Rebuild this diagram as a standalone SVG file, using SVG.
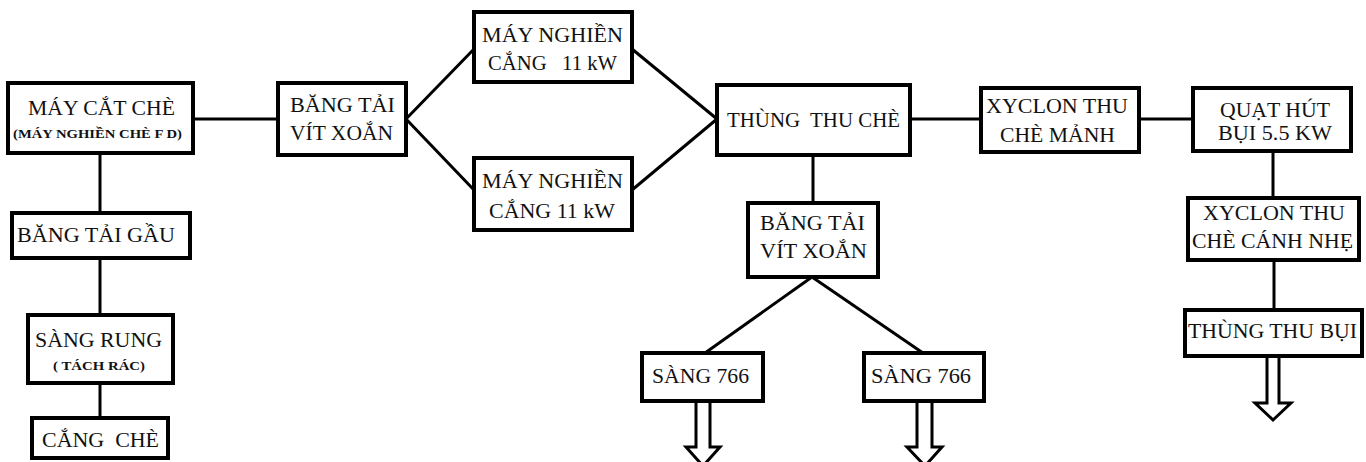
<svg xmlns="http://www.w3.org/2000/svg" width="1366" height="462" viewBox="0 0 1366 462">
<style>
.box{fill:#fff;stroke:#000;stroke-width:4}
.ln{stroke:#000;stroke-width:3;fill:none}
.arr{fill:#fff;stroke:#000;stroke-width:3;stroke-linejoin:miter}
text{font-family:"Liberation Serif","Times New Roman",serif;font-size:20px;fill:#111}
.sm{font-size:12px;font-weight:bold}
</style>
<rect width="1366" height="462" fill="#fff"/>
<g id="connectors">
<line class="ln" x1="193" y1="119" x2="278" y2="119"/>
<line class="ln" x1="100" y1="153" x2="100" y2="213"/>
<line class="ln" x1="100" y1="258" x2="100" y2="315"/>
<line class="ln" x1="100" y1="383" x2="100" y2="418"/>
<line class="ln" x1="406" y1="119" x2="474" y2="49"/>
<line class="ln" x1="406" y1="119" x2="474" y2="190"/>
<line class="ln" x1="632" y1="49" x2="717" y2="119"/>
<line class="ln" x1="632" y1="190" x2="717" y2="119"/>
<line class="ln" x1="813" y1="155" x2="813" y2="203"/>
<line class="ln" x1="812" y1="277" x2="705" y2="353"/>
<line class="ln" x1="812" y1="277" x2="923" y2="353"/>
<line class="ln" x1="910" y1="119" x2="981" y2="119"/>
<line class="ln" x1="1139" y1="119" x2="1193" y2="119"/>
<line class="ln" x1="1273" y1="151" x2="1273" y2="198"/>
<line class="ln" x1="1274" y1="260" x2="1274" y2="310"/>
<polygon class="arr" points="696,401 710,401 710,447 720,447 703,466 686,447 696,447"/>
<polygon class="arr" points="917,401 932,401 932,447 942,447 925,466 907,447 917,447"/>
<polygon class="arr" points="1267,356 1279,356 1279,403 1291,403 1273,420 1255,403 1267,403"/>
</g>
<g id="n-may-cat-che">
<rect class="box" x="8" y="83" width="185" height="70"/>
<text x="28" y="115" textLength="147" lengthAdjust="spacingAndGlyphs">MÁY CẮT CHÈ</text>
<text class="sm" x="13" y="138" textLength="169" lengthAdjust="spacingAndGlyphs">(MÁY NGHIỀN CHÈ F D)</text>
</g>
<g id="n-bang-tai-gau">
<rect class="box" x="12" y="213" width="178" height="45"/>
<text x="17" y="242" textLength="158" lengthAdjust="spacingAndGlyphs">BĂNG TẢI GẦU</text>
</g>
<g id="n-sang-rung">
<rect class="box" x="28" y="315" width="145" height="68"/>
<text x="35" y="347" textLength="127" lengthAdjust="spacingAndGlyphs">SÀNG RUNG</text>
<text class="sm" x="53" y="370" textLength="92" lengthAdjust="spacingAndGlyphs">( TÁCH RÁC)</text>
</g>
<g id="n-cang-che">
<rect class="box" x="32" y="418" width="136" height="40"/>
<text x="42" y="447" textLength="117" lengthAdjust="spacingAndGlyphs" xml:space="preserve">CẮNG  CHÈ</text>
</g>
<g id="n-bang-tai-1">
<rect class="box" x="278" y="83" width="128" height="72"/>
<text x="290" y="112" textLength="105" lengthAdjust="spacingAndGlyphs">BĂNG TẢI</text>
<text x="290" y="140" textLength="103" lengthAdjust="spacingAndGlyphs">VÍT XOẮN</text>
</g>
<g id="n-may-nghien-1">
<rect class="box" x="474" y="12" width="158" height="70"/>
<text x="482" y="42" textLength="141" lengthAdjust="spacingAndGlyphs">MÁY NGHIỀN</text>
<text x="488" y="70" textLength="129" lengthAdjust="spacingAndGlyphs" xml:space="preserve">CẮNG   11 kW</text>
</g>
<g id="n-may-nghien-2">
<rect class="box" x="474" y="158" width="158" height="72"/>
<text x="482" y="188" textLength="141" lengthAdjust="spacingAndGlyphs">MÁY NGHIỀN</text>
<text x="489" y="218" textLength="126" lengthAdjust="spacingAndGlyphs">CẮNG 11 kW</text>
</g>
<g id="n-thung-thu-che">
<rect class="box" x="717" y="85" width="193" height="70"/>
<text x="727" y="127" textLength="173" lengthAdjust="spacingAndGlyphs" xml:space="preserve">THÙNG  THU CHÈ</text>
</g>
<g id="n-bang-tai-2">
<rect class="box" x="748" y="203" width="130" height="74"/>
<text x="760" y="230" textLength="105" lengthAdjust="spacingAndGlyphs">BĂNG TẢI</text>
<text x="760" y="258" textLength="107" lengthAdjust="spacingAndGlyphs">VÍT XOẮN</text>
</g>
<g id="n-sang-766-1">
<rect class="box" x="642" y="353" width="121" height="48"/>
<text x="652" y="383" textLength="97" lengthAdjust="spacingAndGlyphs">SÀNG 766</text>
</g>
<g id="n-sang-766-2">
<rect class="box" x="864" y="353" width="120" height="48"/>
<text x="871" y="383" textLength="100" lengthAdjust="spacingAndGlyphs">SÀNG 766</text>
</g>
<g id="n-xyclon-manh">
<rect class="box" x="981" y="88" width="158" height="64"/>
<text x="986" y="113" textLength="142" lengthAdjust="spacingAndGlyphs">XYCLON THU</text>
<text x="1000" y="142" textLength="115" lengthAdjust="spacingAndGlyphs">CHÈ MẢNH</text>
</g>
<g id="n-quat-hut">
<rect class="box" x="1193" y="88" width="158" height="63"/>
<text x="1220" y="117" textLength="110" lengthAdjust="spacingAndGlyphs">QUẠT HÚT</text>
<text x="1218" y="140" textLength="114" lengthAdjust="spacingAndGlyphs">BỤI 5.5 KW</text>
</g>
<g id="n-xyclon-canh-nhe">
<rect class="box" x="1188" y="198" width="171" height="62"/>
<text x="1203" y="220" textLength="142" lengthAdjust="spacingAndGlyphs">XYCLON THU</text>
<text x="1192" y="248" textLength="161" lengthAdjust="spacingAndGlyphs">CHÈ CÁNH NHẸ</text>
</g>
<g id="n-thung-thu-bui">
<rect class="box" x="1185" y="310" width="177" height="46"/>
<text x="1188" y="338" textLength="169" lengthAdjust="spacingAndGlyphs">THÙNG THU BỤI</text>
</g>
</svg>
